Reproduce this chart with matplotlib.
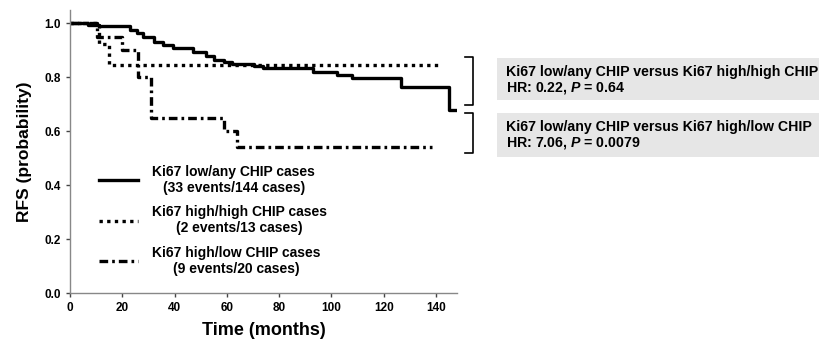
import matplotlib.pyplot as plt
from matplotlib.patches import Rectangle

plt.rcParams['font.family'] = 'Liberation Sans'
plt.rcParams['font.weight'] = 'bold'
plt.rcParams['mathtext.fontset'] = 'custom'
plt.rcParams['mathtext.bfit'] = 'Liberation Sans:italic:bold'
plt.rcParams['mathtext.rm'] = 'Liberation Sans:bold'

# Kaplan-Meier step curves (time in months, survival probability)
low_any_t = [0, 7, 11, 23, 25.5, 28, 32, 35.5, 39.5, 47, 52, 55, 59, 62, 70.5, 74, 93, 102, 108, 126.5, 145]
low_any_s = [1.0, 0.996, 0.99, 0.975, 0.963, 0.95, 0.93, 0.919, 0.909, 0.894, 0.878, 0.866,
             0.857, 0.851, 0.843, 0.836, 0.82, 0.808, 0.797, 0.764, 0.678]
low_any_end = 147.5

high_high_t = [0, 11, 15]
high_high_s = [1.0, 0.923, 0.846]
high_high_end = 142

high_low_t = [0, 10.5, 20, 26, 31, 59, 64]
high_low_s = [1.0, 0.95, 0.90, 0.80, 0.65, 0.60, 0.54]
high_low_end = 138.5

labels = ['Ki67 low/any CHIP cases\n(33 events/144 cases)',
          'Ki67 high/high CHIP cases\n(2 events/13 cases)',
          'Ki67 high/low CHIP cases\n(9 events/20 cases)']

box_texts = [('Ki67 low/any CHIP versus Ki67 high/high CHIP', r'HR: 0.22, $\mathbfit{P}$ = 0.64'),
             ('Ki67 low/any CHIP versus Ki67 high/low CHIP', r'HR: 7.06, $\mathbfit{P}$ = 0.0079')]

W, H = 820, 340
fig = plt.figure(figsize=(W / 100, H / 100), dpi=100)
ax = fig.add_axes([70 / W, 1 - 293 / H, (457 - 70) / W, (293 - 10) / H])


def km(ax, t, s, end, **kw):
    return ax.step(t + [end], s + [s[-1]], where='post', color='black', lw=2.4, **kw)[0]


l1 = km(ax, low_any_t, low_any_s, low_any_end, linestyle='-')
l2 = km(ax, high_high_t, high_high_s, high_high_end, linestyle=(0, (1, 1.3)))
l3 = km(ax, high_low_t, high_low_s, high_low_end, linestyle=(0, (2.6, 1.2, 0.8, 1.2)))

ax.set_xlim(0, 148)
ax.set_ylim(0, 1.05)
ax.set_xticks(range(0, 141, 20))
ax.set_yticks([0.0, 0.2, 0.4, 0.6, 0.8, 1.0])
ax.set_yticklabels(['0.0', '0.2', '0.4', '0.6', '0.8', '1.0'])
ax.tick_params(labelsize=8.5, length=3, width=1, colors='#444444', labelcolor='black')
for sp in ['top', 'right']:
    ax.spines[sp].set_visible(False)
for sp in ['left', 'bottom']:
    ax.spines[sp].set_color('#888888')
    ax.spines[sp].set_linewidth(1)
ax.set_xlabel('Time (months)', fontsize=13, fontweight='bold', labelpad=6)
ax.set_ylabel('RFS (probability)', fontsize=12.5, fontweight='bold', labelpad=9)

leg = ax.legend([l1, l2, l3], labels, loc='upper left', bbox_to_anchor=(87 / W, 1 - 152 / H),
                bbox_transform=fig.transFigure, frameon=False, fontsize=10,
                handlelength=2.8, handletextpad=1.0, labelspacing=0.75)
for t in leg.get_texts():
    t.set_multialignment('center')

# brackets to the right of the curves
for y0, y1 in [(57, 105), (113, 153)]:
    xs = [465 / W, 473 / W, 473 / W, 465 / W]
    ys = [1 - y0 / H, 1 - y0 / H, 1 - y1 / H, 1 - y1 / H]
    fig.add_artist(plt.Line2D(xs, ys, color='black', lw=1.2))

# grey annotation boxes
for (line1, line2), (y0, y1) in zip(box_texts, [(58, 100), (113, 157)]):
    fig.add_artist(Rectangle((497 / W, 1 - y1 / H), (W - 497) / W, (y1 - y0) / H,
                             transform=fig.transFigure, facecolor='#e6e6e6', edgecolor='none'))
    fig.text(506 / W, 1 - (y0 + 14) / H, line1, fontsize=10.2, va='center')
    fig.text(506 / W, 1 - (y0 + 30) / H, line2, fontsize=10.2, va='center')

fig.savefig('out.png', dpi=100)
